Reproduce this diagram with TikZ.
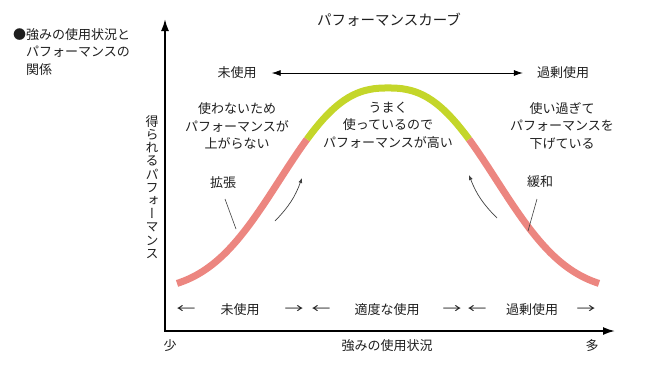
\documentclass[tikz,border=0pt]{standalone}
\usepackage{fontspec}
\setmainfont{Noto Sans CJK JP}
\newfontfamily\vfont[RawFeature=+vert]{Noto Sans CJK JP}
\usetikzlibrary{arrows.meta}
\definecolor{redc}{RGB}{236,134,128}
\definecolor{greenc}{RGB}{196,214,42}
\definecolor{txtc}{RGB}{30,30,30}
\newcommand{\wideglyph}[1]{\scalebox{1.45}[1]{#1}}
\begin{document}
\begin{tikzpicture}[x=1pt,y=-1pt,
  txt/.style={font=\fontsize{13}{17.5}\selectfont, inner sep=0pt, align=center, text=txtc},
  axisline/.style={line width=1.8pt, {Latex[length=12pt,width=8pt]}-{Latex[length=12pt,width=8pt]}},
  thinarrow/.style={line width=0.7pt, {Latex[length=9pt,width=6pt]}-{Latex[length=9pt,width=6pt]}},
  curvearrow/.style={line width=0.7pt, draw=black!75, -{Latex[length=5pt,width=4pt]}},
  leader/.style={line width=0.6pt, draw=black!75},
  curve/.style={line width=7pt}]
\useasboundingbox (0,0) rectangle (657,373);

% caption
\node[txt, anchor=west, align=left] (cap) at (13,52) {●強みの使用状況と\\\hspace*{13pt}パフォーマンスの\\\hspace*{13pt}関係};
% title
\node[txt, font=\fontsize{14.5}{17}\selectfont] (title) at (389,20) {パフォーマンスカーブ};

% axes
\coordinate (ytop) at (165,19);
\coordinate (O) at (165,331);
\coordinate (xend) at (615,331);
\draw[axisline] (ytop) -- (O) -- (xend);

% y label (vertical)
\node[txt, font=\vfont\fontsize{13}{13.2}\selectfont] (ylab) at (152,187) {得\\ら\\れ\\る\\パ\\フ\\ォ\\ー\\マ\\ン\\ス};

% top arrow
\node[txt] (un) at (237,73) {未使用};
\node[txt] (ov) at (563,73) {過剰使用};
\draw[thinarrow, shorten <=15pt, shorten >=14pt] (un) -- (ov);

% curve
\draw[curve, redc] plot[domain=177:307, samples=50] (\x,{292-204*exp(-pow(abs(\x-388)/133,2.5))});
\draw[curve, greenc] plot[domain=307:469, samples=40] (\x,{292-204*exp(-pow(abs(\x-388)/133+0.0001,2.5))});
\draw[curve, redc] plot[domain=469:599, samples=50] (\x,{292-204*exp(-pow(abs(\x-388)/133,2.5))});

% text blocks
\node[txt] (lt) at (237,126) {使わないため\\パフォーマンスが\\上がらない};
\node[txt] (mt) at (388,125) {うまく\\使っているので\\パフォーマンスが高い};
\node[txt] (rt) at (562,126) {使い過ぎて\\パフォーマンスを\\下げている};

% labels with leader lines
\node[txt] (kaku) at (223,183) {拡張};
\coordinate (ka) at (225,199);
\coordinate (kb) at (236,229);
\draw[leader] (ka) -- (kb);
\node[txt] (kanwa) at (540,182) {緩和};
\coordinate (wa) at (537,199);
\coordinate (wb) at (528,231);
\draw[leader] (wa) -- (wb);

% small curved arrows
\coordinate (la1) at (275,221);
\coordinate (la2) at (302,178);
\draw[curvearrow] (la1) to[bend right=12] (la2);
\coordinate (ra1) at (497,218);
\coordinate (ra2) at (469,175);
\draw[curvearrow] (ra1) to[bend left=12] (ra2);

% bottom row
\node[txt] (b1) at (186,310) {\wideglyph{←}};
\node[txt] (b2) at (240,310) {未使用};
\node[txt] (b3) at (294,310) {\wideglyph{→}};
\node[txt] (b4) at (321,310) {\wideglyph{←}};
\node[txt] (b5) at (387,310) {適度な使用};
\node[txt] (b6) at (452,310) {\wideglyph{→}};
\node[txt] (b7) at (477,310) {\wideglyph{←}};
\node[txt] (b8) at (532,310) {過剰使用};
\node[txt] (b9) at (586,310) {\wideglyph{→}};

% axis labels
\node[txt] (few) at (170,346) {少};
\node[txt] (xl) at (387,346) {強みの使用状況};
\node[txt] (many) at (592,346) {多};
\end{tikzpicture}
\end{document}
